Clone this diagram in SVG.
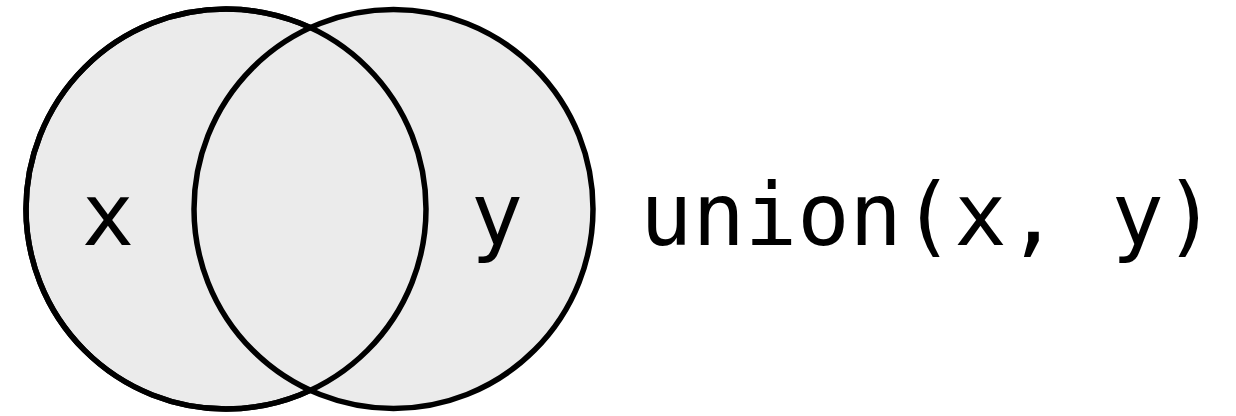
<svg xmlns="http://www.w3.org/2000/svg" width="1236" height="416" viewBox="0 0 1236 416">
<style>
.set{fill:#ebebeb;stroke:#000;stroke-width:5.5}
.outline{fill:none;stroke:#000;stroke-width:5.5}
.lbl{font-family:"DejaVu Sans Mono",monospace;font-size:87px;fill:#000}
</style>
<rect width="1236" height="416" fill="#fff"/>
<g id="set-x"><circle class="set" cx="226" cy="209" r="200"/></g>
<g id="set-y"><circle class="set" cx="393.5" cy="209" r="199.5"/></g>
<g id="outlines"><circle class="outline" cx="226" cy="209" r="200"/></g>
<g id="label-x"><text class="lbl" x="108" y="245" text-anchor="middle">x</text></g>
<g id="label-y"><text class="lbl" x="497" y="245" text-anchor="middle">y</text></g>
<g id="caption"><text class="lbl" x="640" y="245">union(x, y)</text></g>
<g id="connectors"/>
</svg>
